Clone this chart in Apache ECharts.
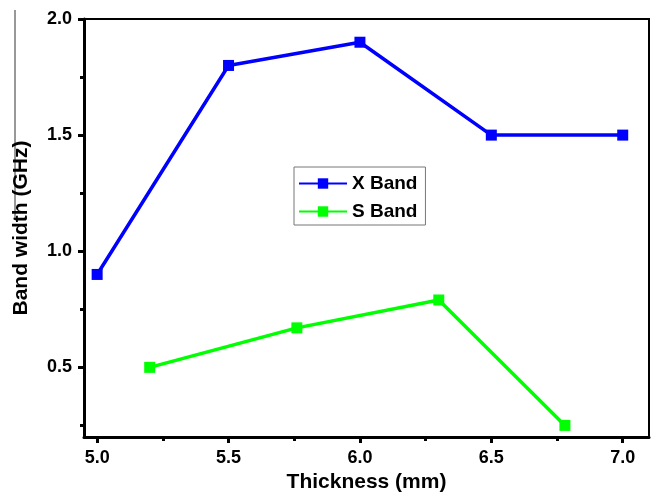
<!DOCTYPE html>
<html>
<head>
<meta charset="utf-8">
<script src="https://cdn.jsdelivr.net/npm/echarts@6/dist/echarts.min.js"></script>
<style>
  html, body { margin: 0; padding: 0; background: #fff; }
  #main { width: 654px; height: 495px; }
</style>
</head>
<body>
<div id="main"></div>
<script>
// thickness (mm) / band width (GHz)
var xBandThick = [5.0, 5.5, 6.0, 6.5, 7.0];
var xBandWidth = [0.9, 1.8, 1.9, 1.5, 1.5];
var sBandThick = [5.2, 5.76, 6.3, 6.78];
var sBandWidth = [0.5, 0.67, 0.79, 0.25];

var xMajor = [5.0, 5.5, 6.0, 6.5, 7.0];
var xMinor = [5.25, 5.75, 6.25, 6.75];
var yMajor = [0.5, 1.0, 1.5, 2.0];
var yMinor = [0.25, 0.75, 1.25, 1.75];

var font = 'Liberation Sans, Arial, sans-serif';

function pairs(xs, ys) {
  return xs.map(function (x, i) { return [x, ys[i]]; });
}

var chart = echarts.init(document.getElementById('main'));

var option = {
  backgroundColor: '#fff',
  animation: false,
  grid: {
    left: 84, top: 19, right: 5, bottom: 58,
    outerBoundsMode: 'none',
    show: true, borderColor: '#000', borderWidth: 2
  },
  legend: {
    orient: 'vertical',
    left: 294, top: 167,
    itemWidth: 48, itemHeight: 13, itemGap: 9,
    padding: [7, 8, 4, 4],
    borderColor: '#777', borderWidth: 1,
    textStyle: { fontFamily: font, fontWeight: 'bold', fontSize: 19, color: '#000', lineHeight: 19 },
    data: ['X Band', 'S Band']
  },
  xAxis: [{
    type: 'value', min: 4.95, max: 7.1,
    name: 'Thickness (mm)', nameLocation: 'middle', nameGap: 35,
    nameTextStyle: { fontFamily: font, fontWeight: 'bold', fontSize: 21, color: '#000' },
    splitLine: { show: false },
    axisLine: { lineStyle: { color: '#000', width: 3 } },
    axisTick: { customValues: xMajor, length: 6, lineStyle: { color: '#000', width: 3 } },
    axisLabel: {
      customValues: xMajor, margin: 12, showMinLabel: true, showMaxLabel: true,
      fontFamily: font, fontWeight: 'bold', fontSize: 18, color: '#000',
      formatter: function (v) { return v.toFixed(1); }
    }
  }, {
    type: 'value', min: 4.95, max: 7.1, position: 'bottom',
    splitLine: { show: false },
    axisLine: { show: false },
    axisTick: { customValues: xMinor, length: 4, lineStyle: { color: '#000', width: 3 } },
    axisLabel: { show: false }
  }],
  yAxis: [{
    type: 'value', min: 0.2, max: 2.0,
    name: 'Band width (GHz)', nameLocation: 'middle', nameGap: 52,
    nameTextStyle: { fontFamily: font, fontWeight: 'bold', fontSize: 21, color: '#000' },
    splitLine: { show: false },
    axisLine: { lineStyle: { color: '#000', width: 3 } },
    axisTick: { customValues: yMajor, length: 6, lineStyle: { color: '#000', width: 3 } },
    axisLabel: {
      customValues: yMajor, margin: 12,
      fontFamily: font, fontWeight: 'bold', fontSize: 18, color: '#000',
      formatter: function (v) { return v.toFixed(1); }
    }
  }, {
    type: 'value', min: 0.2, max: 2.0, position: 'left',
    splitLine: { show: false },
    axisLine: { show: false },
    axisTick: { customValues: yMinor, length: 4, lineStyle: { color: '#000', width: 3 } },
    axisLabel: { show: false }
  }],
  graphic: [{
    type: 'line',
    shape: { x1: 15, y1: 10, x2: 15, y2: 218 },
    style: { stroke: '#333', lineWidth: 1 }
  }],
  series: [{
    name: 'X Band', type: 'line',
    data: pairs(xBandThick, xBandWidth),
    symbol: 'rect', symbolSize: 11,
    lineStyle: { color: '#0000ff', width: 3.5 },
    itemStyle: { color: '#0000ff' }
  }, {
    name: 'S Band', type: 'line',
    data: pairs(sBandThick, sBandWidth),
    symbol: 'rect', symbolSize: 11,
    lineStyle: { color: '#00ff00', width: 3.5 },
    itemStyle: { color: '#00ff00' }
  }]
};

chart.setOption(option);
</script>
</body>
</html>
